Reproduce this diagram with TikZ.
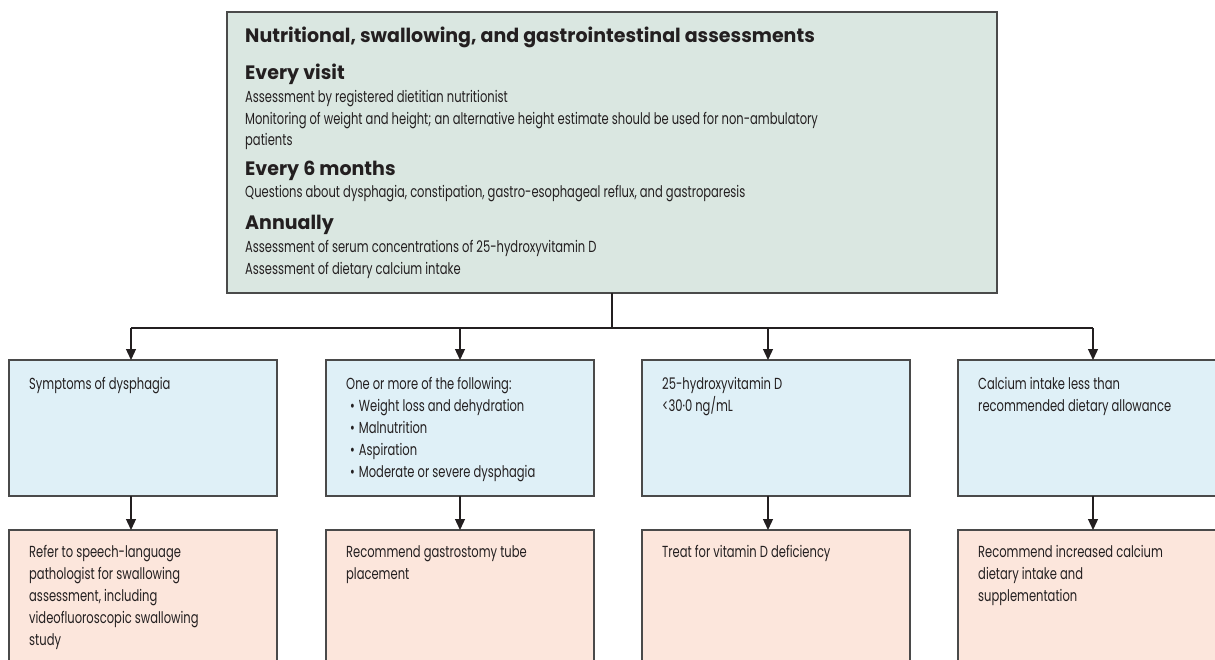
\documentclass[tikz,border=0pt]{standalone}
\usepackage{fontspec}
\setmainfont{Poppins}
\newfontfamily\bodyfont[FakeStretch=0.72]{Poppins}
\newfontfamily\headfont[FakeStretch=0.98]{Poppins Bold}
\usetikzlibrary{arrows.meta}
\definecolor{topfill}{HTML}{DAE7E1}
\definecolor{condfill}{HTML}{DFF0F7}
\definecolor{actfill}{HTML}{FCE6DC}
\definecolor{edge}{HTML}{4A4A4A}
\definecolor{ink}{HTML}{231F20}
\tikzset{
  box/.style={draw=edge, line width=1.3pt, anchor=north west, inner sep=0pt, outer sep=0pt},
  condbox/.style={box, fill=condfill, minimum width=268pt, minimum height=136pt},
  actbox/.style={box, fill=actfill, minimum width=268pt, minimum height=140pt},
  title/.style={anchor=base west, inner sep=0pt, text=ink, font=\headfont\fontsize{19.4}{22}\selectfont},
  head/.style={anchor=base west, inner sep=0pt, text=ink, font=\headfont\fontsize{19.4}{22}\selectfont},
  body/.style={anchor=base west, inner sep=0pt, text=ink, font=\bodyfont\fontsize{16}{22}\selectfont},
  para/.style={anchor=north west, inner sep=0pt, text=ink, align=left, font=\bodyfont\fontsize{16}{22}\selectfont},
  link/.style={draw=ink, line width=1.3pt},
  arr/.style={link, -{Triangle[width=10pt,length=11pt]}}
}
\begin{document}
\begin{tikzpicture}[x=1pt,y=-1pt]
\useasboundingbox (0,0) rectangle (1215,660);
\clip (0,0) rectangle (1215,660);
% top box
\node[box, fill=topfill, minimum width=770pt, minimum height=281pt] (top) at (227,12) {};
\node[title] (t0) at (245,43) {Nutritional, swallowing, and gastrointestinal assessments};
\node[head] (h1) at (245,80) {Every visit};
\node[body] (b1) at (245,103) {Assessment by registered dietitian nutritionist};
\node[body] (b2) at (245,125) {Monitoring of weight and height; an alternative height estimate should be used for non-ambulatory};
\node[body] (b3) at (245,146) {patients};
\node[head] (h2) at (245,176) {Every 6 months};
\node[body] (b4) at (245,198) {Questions about dysphagia, constipation, gastro-esophageal reflux, and gastroparesis};
\node[head] (h3) at (245,230) {Annually};
\node[body] (b5) at (245,253) {Assessment of serum concentrations of 25-hydroxyvitamin D};
\node[body] (b6) at (245,275) {Assessment of dietary calcium intake};
% condition boxes
\node[condbox] (c1) at (9,360) {};
\node[condbox] (c2) at (326,360) {};
\node[condbox] (c3) at (642,360) {};
\node[condbox] (c4) at (958,360) {};
% action boxes
\node[actbox] (a1) at (9,530) {};
\node[actbox] (a2) at (326,530) {};
\node[actbox] (a3) at (642,530) {};
\node[actbox] (a4) at (958,530) {};
% texts
\node[para] (c1t) at (29,377) {Symptoms of dysphagia};
\node[para] (c2t) at (346,377) {One or more of the following:\\
\hspace*{4pt}\textbullet\hspace{4pt}Weight loss and dehydration\\
\hspace*{4pt}\textbullet\hspace{4pt}Malnutrition\\
\hspace*{4pt}\textbullet\hspace{4pt}Aspiration\\
\hspace*{4pt}\textbullet\hspace{4pt}Moderate or severe dysphagia};
\node[para] (c3t) at (662,377) {25-hydroxyvitamin D\\{<}30{\textperiodcentered}0 ng/mL};
\node[para] (c4t) at (978,377) {Calcium intake less than\\recommended dietary allowance};
\node[para] (a1t) at (29,545) {Refer to speech-language\\pathologist for swallowing\\assessment, including\\videofluoroscopic swallowing\\study};
\node[para] (a2t) at (346,545) {Recommend gastrostomy tube\\placement};
\node[para] (a3t) at (662,545) {Treat for vitamin D deficiency};
\node[para] (a4t) at (978,545) {Recommend increased calcium\\dietary intake and\\supplementation};
% connectors
\coordinate (j) at (612,328);
\coordinate (jl) at (131,328);
\coordinate (jr) at (1093,328);
\coordinate (j2) at (460,328);
\coordinate (j3) at (768,328);
\draw[link] (top.south -| j) -- (j);
\draw[link] (jl) -- (jr);
\draw[arr] (jl) -- (jl |- c1.north);
\draw[arr] (j2) -- (j2 |- c2.north);
\draw[arr] (j3) -- (j3 |- c3.north);
\draw[arr] (jr) -- (jr |- c4.north);
\draw[arr] (c1.south -| jl) -- (a1.north -| jl);
\draw[arr] (c2.south -| j2) -- (a2.north -| j2);
\draw[arr] (c3.south -| j3) -- (a3.north -| j3);
\draw[arr] (c4.south -| jr) -- (a4.north -| jr);
\end{tikzpicture}
\end{document}
